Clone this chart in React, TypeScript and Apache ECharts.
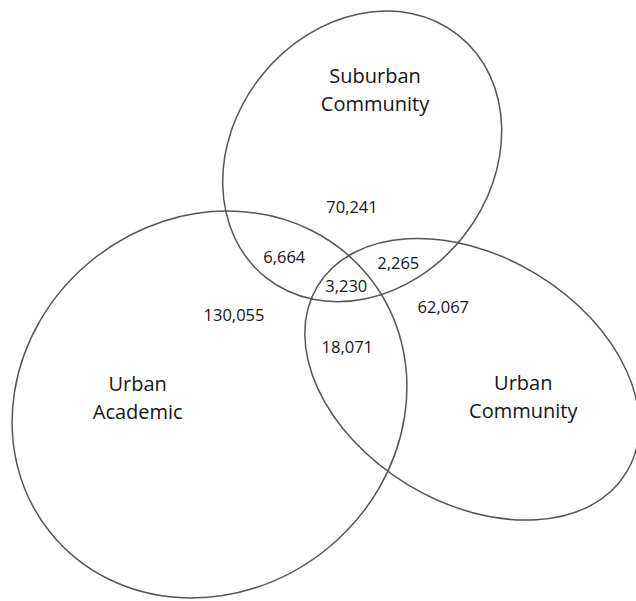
import React, { useEffect, useRef } from "react";
import * as echarts from "echarts";

// ---- data ----
const setNames = ["Suburban\nCommunity", "Urban\nAcademic", "Urban\nCommunity"];
const regionNames = [
  "Suburban only",
  "Urban Academic only",
  "Urban Community only",
  "Suburban & Urban Academic",
  "Suburban & Urban Community",
  "Urban Academic & Urban Community",
  "All three",
];
const regionValues = [70241, 130055, 62067, 6664, 2265, 18071, 3230];

// ---- layout (pixel-like data space, y downward) ----
// ellipse: [cx, cy, rx, ry, rotationDeg]
const ellipseLayout = [
  [362.2, 156.4, 154.7, 129.0, 51.6],
  [209.5, 404.5, 204.4, 186.2, 38.7],
  [472.0, 379.3, 180.4, 123.4, -31.0],
];
const setLabelPos = [
  [375, 89],
  [137.7, 397.5],
  [523.3, 396.7],
];
const regionLabelPos = [
  [352, 206.7],
  [234, 314],
  [443.3, 306],
  [284.3, 256.7],
  [398.3, 262.3],
  [347.3, 346.7],
  [346.3, 285],
];

const W = 636;
const H = 601;
const FONT = "'Open Sans', 'Noto Sans', sans-serif";

export default function App() {
  const ref = useRef<HTMLDivElement>(null);
  useEffect(() => {
    document.body.style.margin = "0";
    document.body.style.background = "#fff";
    const chart = echarts.init(ref.current!, undefined, { renderer: "svg" });
    const fmt = (v: number) => v.toLocaleString("en-US");
    chart.setOption({
      animation: false,
      backgroundColor: "#ffffff",
      grid: { left: 0, right: 0, top: 0, bottom: 0 },
      xAxis: { type: "value", min: 0, max: W, show: false },
      yAxis: { type: "value", min: 0, max: H, inverse: true, show: false },
      series: [
        {
          type: "custom",
          coordinateSystem: "cartesian2d",
          data: ellipseLayout.map((e, i) => ({ name: setNames[i], value: e })),
          renderItem: (params: any, api: any) => {
            const c = api.coord([api.value(0), api.value(1)]);
            const s = api.size([api.value(2), api.value(3)]);
            return {
              type: "ellipse",
              x: c[0],
              y: c[1],
              rotation: (api.value(4) * Math.PI) / 180,
              shape: { cx: 0, cy: 0, rx: Math.abs(s[0]), ry: Math.abs(s[1]) },
              style: { fill: "none", stroke: "#555555", lineWidth: 1.5 },
              silent: true,
            };
          },
        },
        {
          type: "custom",
          coordinateSystem: "cartesian2d",
          data: setLabelPos.map((p, i) => ({ name: setNames[i], value: p })),
          renderItem: (params: any, api: any) => {
            const c = api.coord([api.value(0), api.value(1)]);
            return {
              type: "text",
              x: c[0],
              y: c[1],
              style: {
                text: setNames[params.dataIndex],
                font: `20px ${FONT}`,
                lineHeight: 28,
                fill: "#151515",
                align: "center",
                verticalAlign: "middle",
              },
            };
          },
        },
        {
          type: "custom",
          coordinateSystem: "cartesian2d",
          data: regionLabelPos.map((p, i) => ({ name: regionNames[i], value: p })),
          renderItem: (params: any, api: any) => {
            const c = api.coord([api.value(0), api.value(1)]);
            return {
              type: "text",
              x: c[0],
              y: c[1],
              style: {
                text: fmt(regionValues[params.dataIndex]),
                font: `16.5px ${FONT}`,
                fill: "#151515",
                align: "center",
                verticalAlign: "middle",
              },
            };
          },
        },
      ],
    });
    return () => chart.dispose();
  }, []);
  return <div ref={ref} style={{ width: W, height: H }} />;
}
